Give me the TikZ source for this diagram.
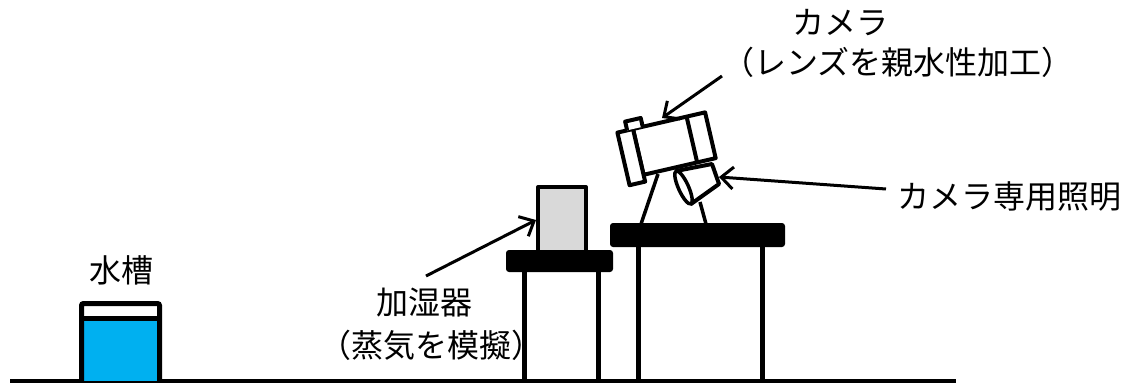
\documentclass[tikz,border=0pt]{standalone}
\usepackage{fontspec}
\newfontfamily\cjk{Noto Sans CJK JP}
\usetikzlibrary{arrows.meta}
\definecolor{waterblue}{HTML}{00B0F0}
\definecolor{devicegray}{HTML}{D9D9D9}
\begin{document}
\begin{tikzpicture}[x=1pt,y=-1pt,
  lbl/.style={inner sep=0pt, anchor=base, font=\cjk\fontsize{32}{38}\selectfont},
  outline/.style={line width=4pt, line join=round},
  slab/.style={fill=black, rounded corners=3pt},
  leg/.style={line width=5pt},
  pointer/.style={line width=3pt, -{Straight Barb[length=12pt,width=22pt]}}]
\useasboundingbox (0,0) rectangle (1129,383);

% floor
\draw[line width=4pt] (10,381) -- (956,381);

% water tank
\fill[waterblue] (81.5,318.5) rectangle (159.5,381);
\draw[line width=5pt] (81.5,318.5) -- (159.5,318.5);
\draw[line width=5pt, rounded corners=2pt] (81.5,381) -- (81.5,303.5) -- (159.5,303.5) -- (159.5,381);
\node[lbl] (tank) at (121,282) {水槽};

% humidifier table
\draw[leg] (524,272) -- (524,380);
\draw[leg] (598,272) -- (598,380);
\fill[slab] (506,250) rectangle (613,272);
\draw[outline, fill=devicegray] (538,250) -- (538,187) -- (586,187) -- (586,250);

% camera table
\draw[leg] (638,247) -- (638,380);
\draw[leg] (762,247) -- (762,380);
\fill[slab] (610,223) rectangle (785,247);

% tripod legs
\draw[line width=3.5pt] (658,174) -- (641,224);
\draw[line width=3.5pt] (700,202) -- (706,224);

% camera body, tilted
\begin{scope}[shift={(633,129)}, rotate=13]
  \draw[outline, fill=white] (0,0) rectangle (74,47);
  \draw[outline, fill=white] (-16,0) rectangle (0,54);
  \draw[outline] (55,0) -- (55,47);
  \draw[outline, fill=white] (-6,0) -- (-6,-9) -- (10,-9) -- (10,0);
\end{scope}

% camera light
\draw[outline, fill=white] (676,171) -- (712,164) -- (719,184) -- (691,204);
\draw[line width=3.5pt, fill=white, shift={(683.5,187.5)}, rotate=-65.6] (0,0) ellipse [x radius=18pt, y radius=5pt];

% labels
\node[lbl] (hum1) at (424,314) {加湿器};
\node[lbl] (hum2) at (431,357) {（蒸気を模擬）};
\node[lbl] (cam1) at (840,34) {カメラ};
\node[lbl] (cam2) at (898,74) {（レンズを親水性加工）};
\node[lbl] (lamp) at (1009,208) {カメラ専用照明};

% pointers
\coordinate (humTail) at (426,276);
\coordinate (humTip) at (536,220);
\coordinate (camTail) at (722,76);
\coordinate (camTip) at (662,118);
\coordinate (lampTail) at (886,189);
\coordinate (lampTip) at (719,177);
\draw[pointer] (humTail) -- (humTip);
\draw[pointer] (camTail) -- (camTip);
\draw[pointer] (lampTail) -- (lampTip);
\end{tikzpicture}
\end{document}
